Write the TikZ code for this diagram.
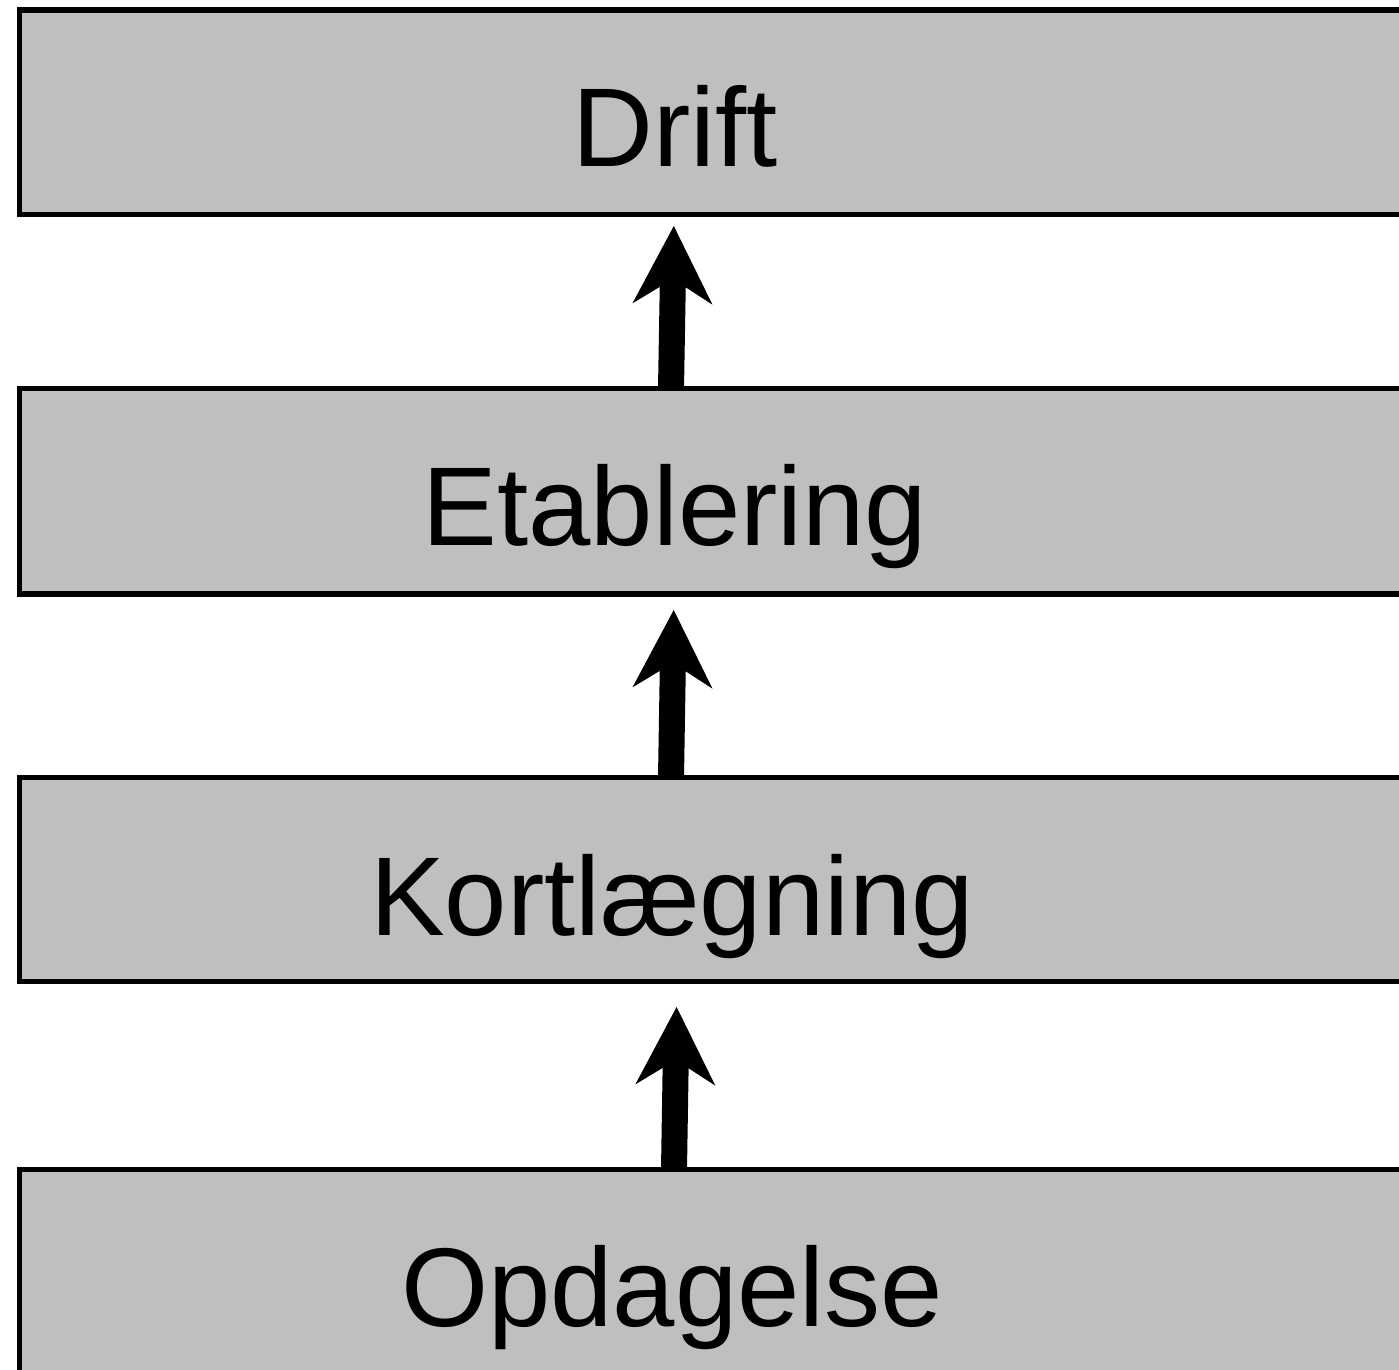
\documentclass[tikz,border=0pt]{standalone}
\usepackage{fontspec}
\setmainfont{Liberation Sans}
\usetikzlibrary{arrows.meta}
\definecolor{boxgray}{RGB}{191,191,191}
\begin{document}
\begin{tikzpicture}[x=1pt,y=-1pt,
  stagebox/.style={draw=black, fill=boxgray, line width=5.3pt, rectangle, inner sep=0pt, outer sep=0pt, minimum width=1600pt, anchor=north west},
  stagetext/.style={anchor=base, inner sep=0pt, outer sep=0pt, font=\fontsize{112}{134}\selectfont},
  uparrow/.style={line width=26pt, -{Stealth[length=78pt,width=80pt,inset=25pt,line width=0pt]}}
]
\useasboundingbox (0,0) rectangle (1399,1369);
\clip (0,0) rectangle (1399,1369);

\node[stagebox, minimum height=204.5pt] (drift) at (19.7,10) {};
\node[stagebox, minimum height=205.7pt] (etab) at (19.7,388.3) {};
\node[stagebox, minimum height=204pt] (kort) at (19.7,777.5) {};
\node[stagebox, minimum height=205pt] (opd) at (19.7,1169.5) {};

\node[stagetext] (tdrift) at (675,166.5) {Drift};
\node[stagetext] (tetab) at (675,545.5) {Etablering};
\node[stagetext] (tkort) at (672,935) {Kortlægning};
\node[stagetext] (topd) at (672,1326) {Opdagelse};

\coordinate (a1s) at (671,0);
\coordinate (a1e) at (674,0);
\coordinate (a2s) at (671,0);
\coordinate (a2e) at (674,0);
\coordinate (a3s) at (674,0);
\coordinate (a3e) at (677,0);

\draw[uparrow, shorten >=11.5pt] (a1s |- etab.north) -- (a1e |- drift.south);
\draw[uparrow, shorten >=16pt] (a2s |- kort.north) -- (a2e |- etab.south);
\draw[uparrow, shorten >=25.5pt] (a3s |- opd.north) -- (a3e |- kort.south);
\end{tikzpicture}
\end{document}
